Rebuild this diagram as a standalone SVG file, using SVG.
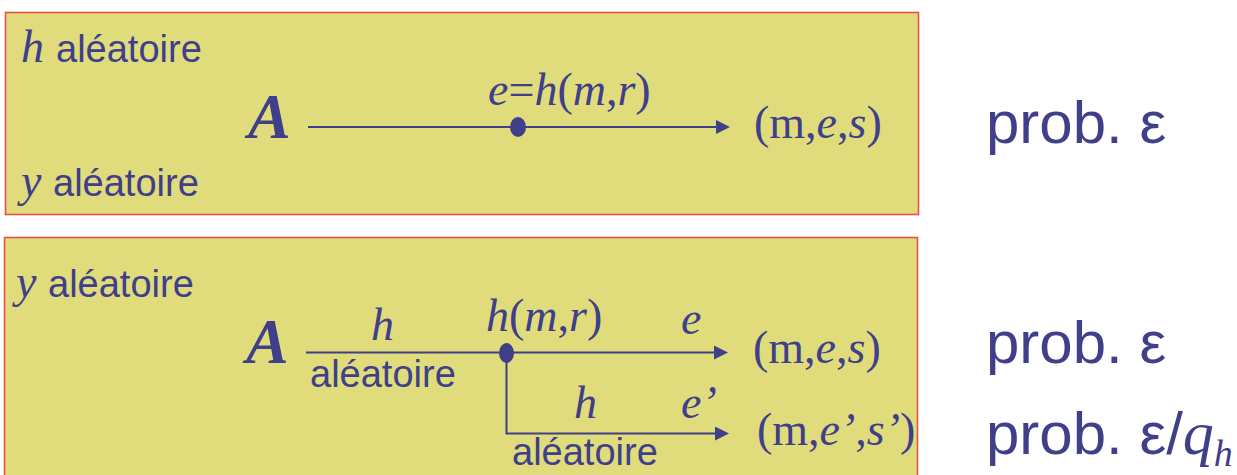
<svg xmlns="http://www.w3.org/2000/svg" width="1237" height="475" viewBox="0 0 1237 475">
  <style>
    .panel { fill: #e0dc7c; stroke: #e8504a; stroke-width: 1.6; }
    .sans { font-family: "Liberation Sans", Arial, sans-serif; fill: #3f3f8a; }
    .serif { font-family: "Liberation Serif", "Times New Roman", serif; fill: #3f3f8a; }
    .it { font-style: italic; }
    .lbl { font-size: 38px; }
    .math { font-size: 46px; }
    .big { font-size: 60px; }
    .cal { font-size: 64px; font-style: italic; font-weight: bold; }
    .wire { fill: none; stroke: #3f3f8a; stroke-width: 2; }
    .dot { fill: #3f3f8a; }
  </style>
  <defs>
    <marker id="arrow" markerUnits="userSpaceOnUse" markerWidth="14" markerHeight="14" refX="0" refY="7" orient="auto">
      <path d="M0,0 L14,7 L0,14 z" fill="#3f3f8a"/>
    </marker>
  </defs>

  <rect width="1237" height="475" fill="#ffffff"/>

  <g id="panel1">
    <rect class="panel" x="5.5" y="12.5" width="913" height="202"/>
    <text class="serif it math" x="21" y="62">h</text>
    <text class="sans lbl" x="56" y="62">aléatoire</text>
    <text class="serif it math" x="21" y="196">y</text>
    <text class="sans lbl" x="53" y="196">aléatoire</text>
  </g>

  <g id="panel2">
    <rect class="panel" x="4.5" y="237.5" width="913" height="245"/>
    <text class="serif it math" x="16" y="297">y</text>
    <text class="sans lbl" x="48" y="297">aléatoire</text>
  </g>

  <g id="nodeA1">
    <text class="serif cal" x="248" y="138">A</text>
  </g>
  <g id="nodeH1">
    <ellipse class="dot" cx="518" cy="127" rx="8" ry="10"/>
    <text class="serif math" x="488" y="105"><tspan class="it">e</tspan>=<tspan class="it">h</tspan>(<tspan class="it">m</tspan>,<tspan class="it">r</tspan>)</text>
  </g>
  <g id="nodeOut1">
    <text class="serif math" x="754" y="138">(m,<tspan class="it">e</tspan>,<tspan class="it">s</tspan>)</text>
  </g>
  <g id="prob1">
    <text class="sans big" x="986" y="143">prob. ε</text>
  </g>

  <g id="nodeA2">
    <text class="serif cal" x="246" y="363">A</text>
  </g>
  <g id="nodeH2">
    <ellipse class="dot" cx="506.5" cy="353" rx="7.5" ry="10"/>
    <text class="serif math" x="486" y="331"><tspan class="it">h</tspan>(<tspan class="it">m</tspan>,<tspan class="it">r</tspan>)</text>
  </g>
  <g id="nodeOut2">
    <text class="serif math" x="753" y="363">(m,<tspan class="it">e</tspan>,<tspan class="it">s</tspan>)</text>
  </g>
  <g id="nodeOut3">
    <text class="serif math" x="757" y="445">(m,<tspan class="it">e’</tspan>,<tspan class="it">s’</tspan>)</text>
  </g>
  <g id="prob2">
    <text class="sans big" x="986" y="363">prob. ε</text>
  </g>
  <g id="prob3">
    <text class="sans big" x="986" y="454">prob. ε/<tspan class="serif it" font-size="62">q</tspan><tspan class="serif it" font-size="38" dy="12">h</tspan></text>
  </g>

  <g id="connectors">
    <path class="wire" d="M308,127 H716" marker-end="url(#arrow)"/>
    <path class="wire" d="M306,352.5 H714" marker-end="url(#arrow)"/>
    <path class="wire" d="M506.5,353 V433.5 H715" marker-end="url(#arrow)"/>
    <text class="serif it math" x="371" y="340">h</text>
    <text class="sans lbl" x="310" y="387">aléatoire</text>
    <text class="serif it math" x="681" y="334">e</text>
    <text class="serif it math" x="574" y="418">h</text>
    <text class="serif it math" x="681" y="418">e’</text>
    <text class="sans lbl" x="512" y="465">aléatoire</text>
  </g>
</svg>
